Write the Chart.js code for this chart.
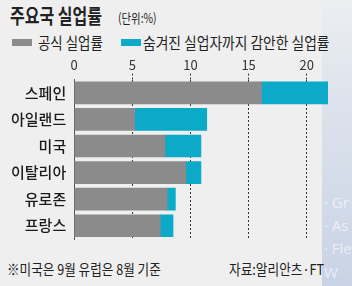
<!DOCTYPE html>
<html>
<head>
<meta charset="utf-8">
<script src="https://cdn.jsdelivr.net/npm/chart.js@4"></script>
<style>
  html, body { margin: 0; padding: 0; }
  body {
    width: 352px; height: 286px; overflow: hidden; position: relative;
    background: #efefef; font-family: "Noto Sans CJK KR", sans-serif; color: #222;
  }
  .t { position: absolute; white-space: nowrap; line-height: 1; transform-origin: left top; transform: scaleX(0.8); }
  #panel {
    position: absolute; left: 322px; top: 0; width: 30px; height: 286px;
    background: linear-gradient(to bottom, #eceef2 0%, #dde3ec 35%, #c8d3e5 100%);
  }
  #panel span { position: absolute; left: 2px; color: rgba(255,255,255,0.6); font-family: "Open Sans", sans-serif; font-size: 15px; line-height: 1; }
  #wrap { position: absolute; left: 0; top: 56px; width: 352px; height: 200px; }
  .box { position: absolute; width: 20px; height: 7px; }
</style>
</head>
<body>
<div id="panel">
  <span style="top:195px">· Gr</span>
  <span style="top:218px">· As</span>
  <span style="top:241px">· Fle</span>
  <span style="top:265px">W</span>
</div>

<div class="t" style="left:10px; top:6px; font-size:20px; font-weight:700;">주요국 실업률</div>
<div class="t" style="left:118px; top:11px; font-size:13px;">(단위:%)</div>

<div class="box" style="left:12px; top:39px; background:#8b8b8b;"></div>
<div class="t" style="left:38px; top:34px; font-size:16px; transform:scaleX(0.84);">공식 실업률</div>
<div class="box" style="left:121px; top:39px; background:#0baac8;"></div>
<div class="t" style="left:143px; top:34px; font-size:16px; transform:scaleX(0.86);">숨겨진 실업자까지 감안한 실업률</div>

<div id="wrap"><canvas id="chart"></canvas></div>

<div class="t" style="left:7px; top:261px; font-size:15px; transform:scaleX(0.84);">※미국은 9월 유럽은 8월 기준</div>
<div class="t" style="left:229px; top:261px; font-size:15px; transform:scaleX(0.845);">자료:알리안츠·FT</div>

<script>
// 국가별 실업률 (%)
const countries = ['스페인', '아일랜드', '미국', '이탈리아', '유로존', '프랑스'];
const official = [16.1, 5.2, 7.8, 9.6, 8.0, 7.4];
const adjusted = [21.8, 11.4, 10.9, 10.9, 8.7, 8.5];
const xMax = 22;   // axis runs a bit past the last labelled tick (20)

// extra part stacked on top of the official rate
const hidden = adjusted.map((v, i) => +(v - official[i]).toFixed(1));

// ticks come out as 0,5,10,15,20,22 -> no line at 0 (axis border) or at 22
const gridColors = ['rgba(0,0,0,0)', '#333', '#333', '#333', '#333', 'rgba(0,0,0,0)'];

const ctx = document.getElementById('chart').getContext('2d');
new Chart(ctx, {
  type: 'bar',
  data: {
    labels: countries,
    datasets: [
      { label: '공식 실업률', data: official, backgroundColor: '#8b8b8b', barThickness: 22 },
      { label: '숨겨진 실업자까지 감안한 실업률', data: hidden, backgroundColor: '#0baac8', barThickness: 22 }
    ]
  },
  options: {
    indexAxis: 'y',
    responsive: true,
    maintainAspectRatio: false,
    animation: false,
    layout: { padding: { left: 3, right: 22, top: 0, bottom: 5 } },
    plugins: { legend: { display: false }, tooltip: { enabled: false } },
    scales: {
      x: {
        position: 'top',
        stacked: true,
        min: 0,
        max: xMax,
        grid: {
          color: gridColors,
          tickColor: gridColors,
          lineWidth: 1,
          tickLength: 6,
          tickBorderDash: [2, 2]
        },
        border: { display: false, dash: [2, 2] },
        ticks: {
          stepSize: 5,
          padding: 1,
          color: '#333',
          font: { family: '"Noto Sans CJK KR", sans-serif', size: 13 },
          callback: v => (v % 5 === 0 ? v : '')
        }
      },
      y: {
        stacked: true,
        grid: { display: false, drawTicks: false },
        border: { display: true, color: '#555', width: 1 },
        ticks: {
          padding: 8,
          color: '#1a1a1a',
          font: { family: '"Noto Sans CJK KR", sans-serif', size: 15, weight: '500' }
        }
      }
    }
  }
});
</script>
</body>
</html>
